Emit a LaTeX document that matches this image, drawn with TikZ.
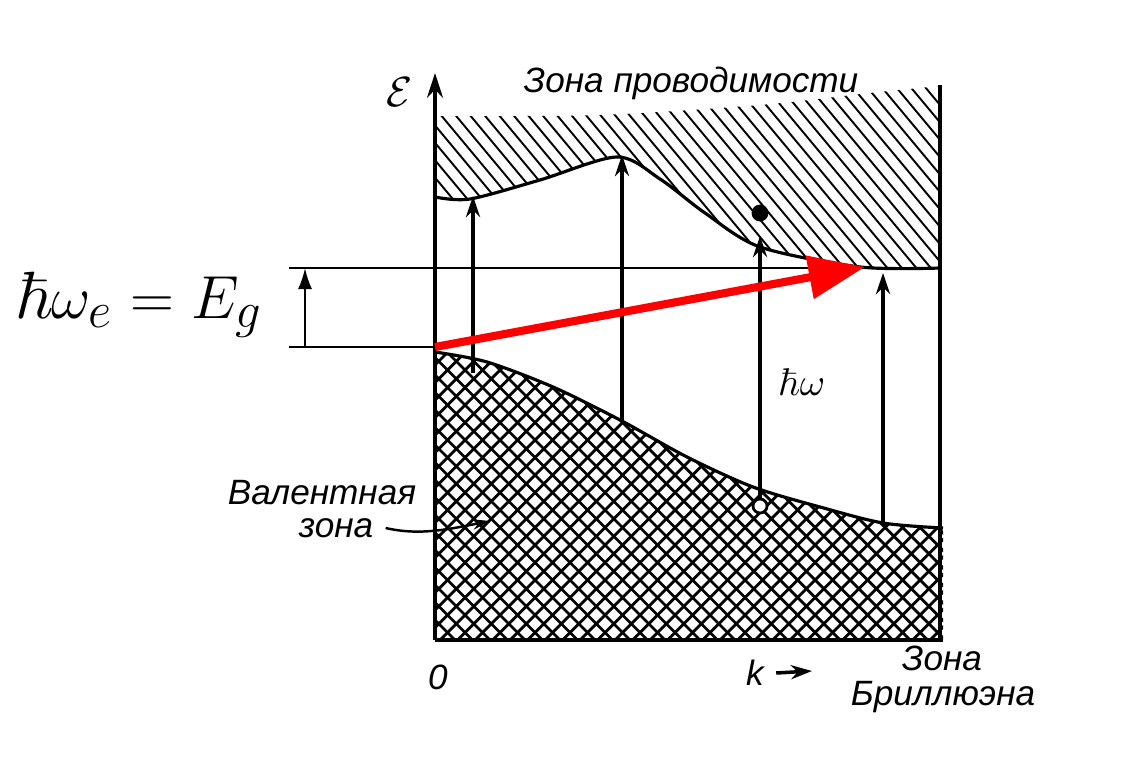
\documentclass[tikz,border=0pt]{standalone}
\usepackage[no-math]{fontspec}
\setmainfont{Liberation Sans}
\usepackage{amsmath}
\usepackage{amssymb}
\usetikzlibrary{arrows.meta, calc}

\begin{document}
\begin{tikzpicture}[x=0.01cm, y=-0.01cm, font=\fontsize{10}{12}\selectfont\itshape]
    \tikzset{
        axis/.style={line width=1.1pt, -{Stealth[length=7pt, width=4.5pt]}},
        edge/.style={line width=0.9pt},
        hatch/.style={line width=0.55pt},
        xhatch/.style={line width=0.8pt},
        transition/.style={line width=1pt, -{Stealth[length=6pt, width=4pt]}},
        gapline/.style={line width=0.6pt},
        photon/.style={red, line width=2.3pt, -{Triangle[length=16pt, width=12pt]}},
        leader/.style={line width=0.7pt, -{Stealth[length=5pt, width=3pt]}},
        electron/.style={circle, fill, inner sep=0pt, minimum size=4.8pt},
        hole/.style={circle, draw, fill=white, line width=0.8pt, inner sep=0pt, minimum size=4pt}
    }
    \useasboundingbox (0,0) rectangle (1128,761);

    % conduction band
    \begin{scope}
        \clip plot[smooth] coordinates {(435,116) (600,115) (760,105) (870,93) (940,86)}
            -- (940,268) -- plot[smooth] coordinates
            {(860,267) (760,247) (705,213) (660,179) (617,157) (540,180) (470,199) (435,197)} -- cycle;
        \foreach \i in {0,...,48}
            \draw[hatch] (250+\i*14.5,60) -- ++(300,360);
    \end{scope}
    \draw[edge] plot[smooth] coordinates
        {(435,197) (470,199) (540,180) (617,157) (660,179) (705,213) (760,247) (860,267) (940,268)};

    % valence band
    \begin{scope}
        \clip plot[smooth] coordinates
            {(435,352) (487,362) (553,387) (620,420) (687,457) (753,487) (820,507) (883,523) (943,528)}
            -- (943,640) -- (435,640) -- cycle;
        \foreach \i in {0,...,70} {
            \draw[xhatch] (80+\i*17.5,300) -- ++(400,400);
            \draw[xhatch] (80+\i*17.5,300) -- ++(-400,400);
        }
    \end{scope}
    \draw[edge] plot[smooth] coordinates
        {(435,352) (487,362) (553,387) (620,420) (687,457) (753,487) (820,507) (883,523) (943,528)};

    % axes
    \coordinate (O) at (435,640);
    \coordinate (Etop) at (435,73);
    \coordinate (kend) at (943,640);
    \coordinate (rbot) at (940,640);
    \coordinate (rtop) at (940,85);
    \draw[axis] (O) -- (Etop);
    \draw[line width=1.3pt] (O) -- (kend);
    \draw[line width=0.9pt] (rbot) -- (rtop);

    % transitions
    \coordinate (v1) at (473,373);  \coordinate (c1) at (473,196);
    \coordinate (v2) at (622,420);  \coordinate (c2) at (622,155);
    \coordinate (v4) at (883,523);  \coordinate (c4) at (883,273);
    \coordinate (c3) at (760,236);
    \node[hole] (h3) at (760,506) {};
    \node[electron] (e3) at (760,213) {};
    \draw[transition] (v1) -- (c1);
    \draw[transition] (v2) -- (c2);
    \draw[transition] (h3) -- (c3);
    \draw[transition] (v4) -- (c4);

    % band gap
    \coordinate (g1) at (289,268);  \coordinate (g2) at (940,268);
    \coordinate (g3) at (289,347);  \coordinate (vtop) at (435,347);
    \coordinate (ga) at (305,347);  \coordinate (gb) at (305,268);
    \coordinate (cmin) at (865,267);
    \draw[gapline] (g1) -- (g2);
    \draw[gapline] (g3) -- (vtop);
    \draw[gapline, -{Latex[length=6pt, width=4pt]}] (ga) -- (gb);
    \draw[photon] (vtop) -- (cmin);

    % labels
    \node (elab) at (400,92) {\fontsize{13}{14}\selectfont$\mathcal{E}$};
    \node (cband) at (691,83) {Зона проводимости};
    \node (vband1) at (322,493) {Валентная};
    \node (vband2) at (336,528) {зона};
    \draw[leader] (vband2.east) .. controls (420,536) and (450,529) .. (490,521);
    \node (hw) at (802,382) {\fontsize{11}{12}\selectfont$\hbar\omega$};
    \node (zero) at (438,677) {0};
    \node (klab) at (755,673) {k};
    \coordinate (kto) at (812,671);
    \draw[line width=1pt, -{Stealth[length=6pt, width=4pt]}] (klab.east) -- (kto);
    \node (bz1) at (942,658) {Зона};
    \node (bz2) at (943,697) {Бриллюэна};
    \node (gap) at (139,305) {\fontsize{19}{23}\selectfont$\hbar\omega_e = E_g$};
\end{tikzpicture}
\end{document}
